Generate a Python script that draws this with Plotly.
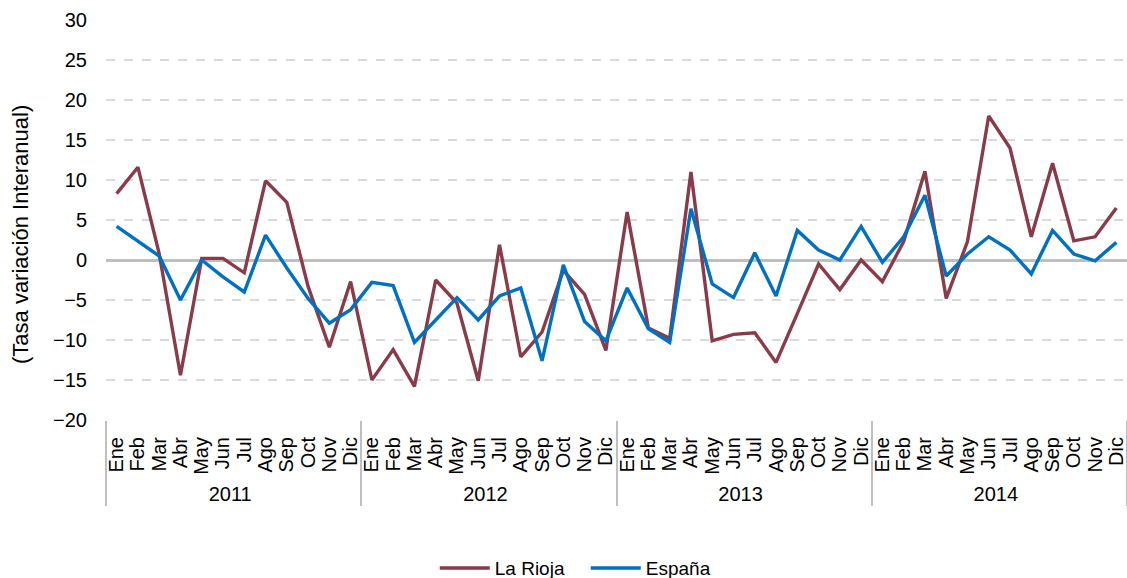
import plotly.graph_objects as go

years = ["2011", "2012", "2013", "2014"]
months = ["Ene", "Feb", "Mar", "Abr", "May", "Jun", "Jul", "Ago", "Sep", "Oct", "Nov", "Dic"]

la_rioja = [
    8.3, 11.6, 0.8, -14.4, 0.2, 0.2, -1.6, 9.9, 7.2, -3.3, -10.9, -2.7,
    -15.0, -11.2, -15.8, -2.5, -5.4, -15.1, 1.9, -12.1, -9.0, -1.3, -4.3, -11.3,
    6.0, -8.5, -9.8, 11.0, -10.1, -9.3, -9.1, -12.8, -6.7, -0.5, -3.7, 0.0,
    -2.7, 2.3, 11.1, -4.8, 2.3, 18.0, 14.0, 2.9, 12.1, 2.4, 2.9, 6.5,
]
espana = [
    4.2, 2.4, 0.5, -5.0, 0.0, -2.1, -4.0, 3.1, -1.0, -4.8, -7.9, -6.2,
    -2.8, -3.2, -10.3, -7.5, -4.7, -7.5, -4.5, -3.5, -12.6, -0.6, -7.7, -10.1,
    -3.5, -8.6, -10.3, 6.4, -3.0, -4.7, 0.9, -4.5, 3.7, 1.25, 0.0, 4.2,
    -0.3, 2.9, 8.1, -2.0, 0.75, 2.9, 1.25, -1.75, 3.7, 0.75, -0.1, 2.2,
]

x_years = [y for y in years for _ in months]
x_months = [m for _ in years for m in months]

fig = go.Figure()
fig.add_trace(go.Scatter(x=[x_years, x_months], y=la_rioja, mode="lines", name="La Rioja",
                         line=dict(color="#8A3B4A", width=3.4)))
fig.add_trace(go.Scatter(x=[x_years, x_months], y=espana, mode="lines", name="España",
                         line=dict(color="#0070C0", width=3.4)))

font_family = "Liberation Sans, Arial, sans-serif"
fig.update_layout(
    width=1127, height=578,
    margin=dict(l=106, r=0, t=20, b=158),
    paper_bgcolor="white", plot_bgcolor="white",
    font=dict(family=font_family, size=20, color="#000000"),
    showlegend=True,
    legend=dict(orientation="h", x=0.322, xanchor="left",
                yref="container", y=0.017, yanchor="middle",
                font=dict(size=19), itemwidth=50,
                entrywidth=86, entrywidthmode="pixels"),
    annotations=[dict(
        text="(Tasa variación Interanual)", textangle=-90,
        xref="paper", yref="paper", x=-0.0842, y=0.4625,
        xanchor="center", yanchor="middle", showarrow=False,
        font=dict(size=22),
    )],
)
fig.update_xaxes(
    type="multicategory",
    range=[-0.5, 47.5],
    automargin=False,
    tickmode="linear",
    tick0=0,
    dtick=1,
    tickangle=-90,
    showgrid=False,
    showline=False,
    ticks="",
    ticklabelstandoff=12,
    showdividers=True,
    dividercolor="#BFBFBF",
    dividerwidth=2,
    tickfont=dict(size=20),
)
fig.update_yaxes(
    range=[-20, 30],
    dtick=5,
    tick0=0,
    automargin=False,
    showgrid=True,
    gridcolor="#D9D9D9",
    griddash="dash",
    gridwidth=1.5,
    zeroline=True,
    zerolinecolor="#BFBFBF",
    zerolinewidth=2.5,
    showline=False,
    ticks="",
    ticklabelstandoff=18,
    tickfont=dict(size=20),
)

fig.write_html("out.html", config={"displayModeBar": False},
               post_script="document.body.style.margin='0';")
